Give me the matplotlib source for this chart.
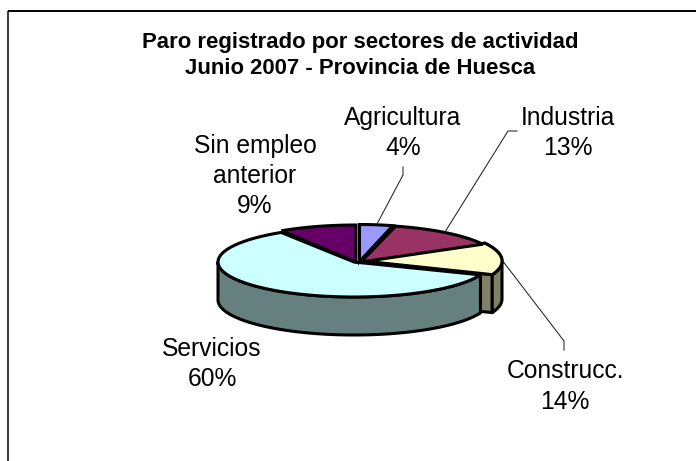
import numpy as np
import matplotlib
matplotlib.use("Agg")
import matplotlib.pyplot as plt

# Chart data
sectors = ["Agricultura", "Industria", "Construcc.", "Servicios", "Sin empleo\nanterior"]
shares = [4, 13, 14, 60, 9]
title_lines = ["Paro registrado por sectores de actividad", "Junio 2007 - Provincia de Huesca"]

top_colors = ["#9999FF", "#993366", "#FFFFCC", "#CCFFFF", "#660066"]
side_colors = ["#666699", "#662244", "#808066", "#668080", "#440044"]

# centre x, centre y, radius x, radius y of each exploded slice (pixels)
geometry = [
    (359.5, 261.5, 134, 37),
    (361, 262, 139, 37),
    (363, 261, 139, 37),
    (354, 262, 136, 35),
    (356, 262, 139, 37),
]
depth = 38

label_pos = [(403, 133), (568, 133), (565, 386.5), (212, 364), (255, 176)]
leaders = [
    [(403, 167), (403, 175), (377, 224)],
    [(517, 131), (508, 131), (445, 232)],
    [(502, 260), (564, 341), (564, 350)],
]

plt.rcParams["font.family"] = ["Liberation Sans", "DejaVu Sans"]

fig = plt.figure(figsize=(6.96, 4.61), dpi=100)
ax = fig.add_axes([0, 0, 1, 1])
ax.set_xlim(0, 696)
ax.set_ylim(461, 0)
ax.axis("off")

# Frame, only top and left are inside the crop
ax.plot([8, 8], [11, 461], color="#404040", lw=1.5, solid_capstyle="butt")
ax.plot([8, 696], [11, 11], color="black", lw=1.4, solid_capstyle="butt")

# Angles clockwise from twelve o'clock
edges = np.cumsum([0] + shares) * 3.6


def rim(i, a, b, n=60):
    cx, cy, rx, ry = geometry[i]
    t = np.radians(np.linspace(a, b, n))
    return cx + rx * np.sin(t), cy - ry * np.cos(t)


def draw_side(i):
    a = max(edges[i], 90)
    b = min(edges[i + 1], 270)
    x, y = rim(i, a, b)
    ax.fill(
        np.r_[x, x[::-1]], np.r_[y, y[::-1] + depth],
        facecolor=side_colors[i], edgecolor="black", lw=2.2, joinstyle="round",
    )


def draw_cut_face(i):
    cx, cy, rx, ry = geometry[i]
    x, y = rim(i, edges[i + 1], edges[i + 1], n=1)
    ax.fill(
        [cx, x[0], x[0], cx], [cy, y[0], y[0] + depth, cy + depth],
        facecolor=side_colors[i], edgecolor="black", lw=2.2, joinstyle="round",
    )


def draw_top(i):
    cx, cy, rx, ry = geometry[i]
    x, y = rim(i, edges[i], edges[i + 1])
    ax.fill(
        np.r_[cx, x], np.r_[cy, y],
        facecolor=top_colors[i], edgecolor="black", lw=2.2, joinstyle="miter",
    )


draw_cut_face(2)
draw_side(2)
draw_top(2)
draw_side(3)
draw_top(3)
draw_top(2)
draw_top(1)
draw_top(0)
draw_top(4)

# Leader lines
for pts in leaders:
    ax.plot([p[0] for p in pts], [p[1] for p in pts], color="#222222", lw=0.75)

# Labels
for name, share, pos in zip(sectors, shares, label_pos):
    ax.text(pos[0], pos[1], f"{name}\n{share}%", ha="center", va="center",
            fontsize=17.7, color="black", linespacing=1.32)

ax.text(360, 55.5, "\n".join(title_lines), ha="center", va="center",
        fontsize=15.9, fontweight="bold", color="black", linespacing=1.27)

fig.savefig("out.png", dpi=100)
plt.close(fig)
